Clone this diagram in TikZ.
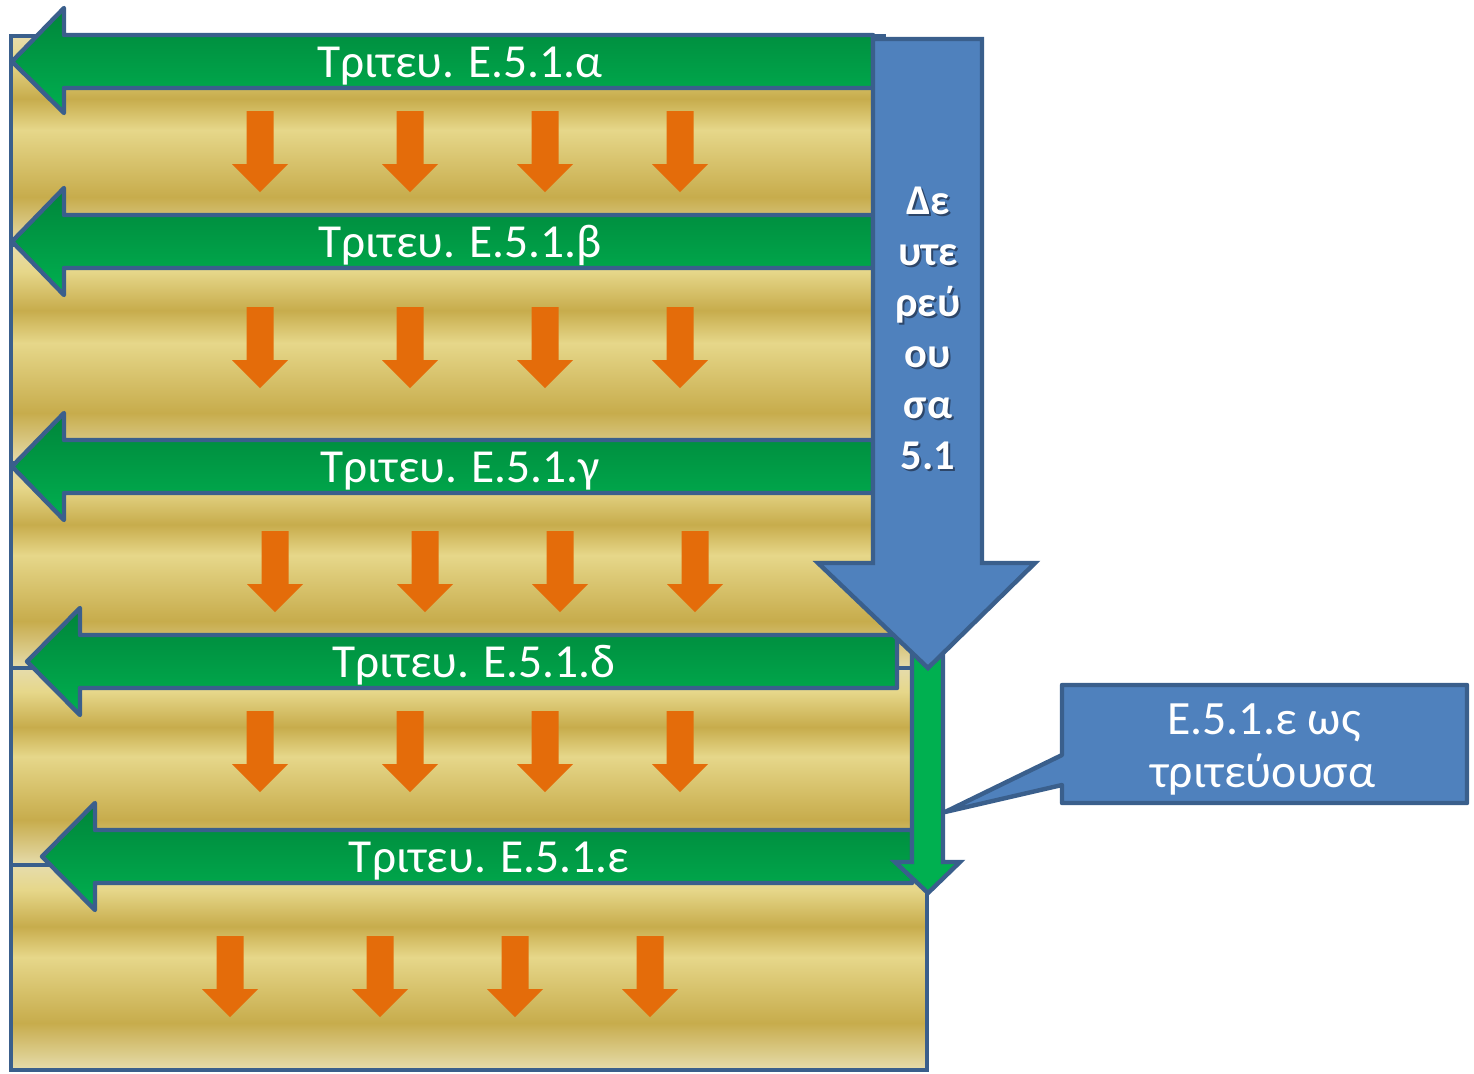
\documentclass[tikz,border=0pt]{standalone}
\usepackage{fontspec}
\setmainfont{Carlito}
\definecolor{edge}{RGB}{58,95,140}
\definecolor{bfill}{RGB}{79,129,189}
\definecolor{orng}{RGB}{228,108,10}
\definecolor{gD}{RGB}{0,133,58}
\definecolor{gL}{RGB}{0,176,80}
\definecolor{au0}{RGB}{230,220,172}
\definecolor{au1}{RGB}{230,215,138}
\definecolor{au2}{RGB}{199,172,76}
\definecolor{shadowc}{RGB}{45,70,105}
\pgfdeclareverticalshading{goldsh}{100bp}{color(0bp)=(au0); color(25bp)=(au0); color(36.5bp)=(au2); color(52.5bp)=(au1); color(60bp)=(au2); color(69bp)=(au1); color(75bp)=(au0); color(100bp)=(au0)}
\tikzset{
  band/.style={shading=goldsh, draw=edge, line width=2.2pt},
  garrow/.style={top color=gD, bottom color=gL, draw=edge, line width=2.2pt, line join=round},
  varrow/.style={fill=gL, draw=edge, line width=2.2pt, line join=miter},
  barrow/.style={fill=bfill, draw=edge, line width=2.2pt, line join=miter},
  oarr/.style={fill=orng},
  lbl/.style={text=white, font=\fontsize{23.7}{28}\selectfont, inner sep=0pt, anchor=base},
  dlbl/.style={text=white, font=\fontsize{21.2}{24}\selectfont\bfseries, inner sep=0pt, anchor=base},
  clbl/.style={text=white, font=\fontsize{23.9}{28}\selectfont, inner sep=0pt, anchor=base},
}
\newcommand\leftarr[7]{\draw[garrow] (#7,#1) -- (#6,#1) -- (#6,#3) -- (#5,{(#1+#2)/2}) -- (#6,#4) -- (#6,#2) -- (#7,#2) -- cycle;}
\newcommand\downarr[2]{\fill[oarr] ({#1-13.5},#2) -- ({#1+13.5},#2) -- ({#1+13.5},{#2+53}) -- ({#1+28},{#2+53}) -- (#1,{#2+81}) -- ({#1-28},{#2+53}) -- ({#1-13.5},{#2+53}) -- cycle;}
\newcommand\shd[1]{\rlap{\kern1pt\raisebox{-1pt}{\textcolor{shadowc}{#1}}}#1}
\begin{document}
\begin{tikzpicture}[x=0.5pt,y=-0.5pt]
\useasboundingbox (0,0) rectangle (1474,1073);
% gold bands
\draw[band] (11,36) rectangle (884,245);
\draw[band] (11,245) rectangle (884,463);
\draw[band] (11,463) rectangle (912,668);
\draw[band] (11,668) rectangle (912,865);
\draw[band] (11,865) rectangle (927,1070);
% orange arrows
\foreach \x in {260,410,545,680} {\downarr{\x}{111}}
\foreach \x in {260,410,545,680} {\downarr{\x}{307}}
\foreach \x in {275,425,560,695} {\downarr{\x}{531}}
\foreach \x in {260,410,545,680} {\downarr{\x}{711}}
\foreach \x in {230,380,515,650} {\downarr{\x}{936}}
% green left arrows
\leftarr{35}{88}{8}{113}{12}{64}{873}
\leftarr{215}{268}{188}{295}{12}{64}{873}
\leftarr{440}{493}{413}{520}{12}{64}{873}
\leftarr{635}{688}{608}{715}{27}{80}{897}
\leftarr{830}{883}{803}{910}{42}{95}{912}
% green vertical arrow
\draw[varrow] (912,650) -- (943,650) -- (943,862) -- (960,862) -- (928,893) -- (895,862) -- (912,862) -- cycle;
% blue big arrow
\draw[barrow] (873,39) -- (982,39) -- (982,563) -- (1035,563) -- (928,668) -- (818,563) -- (873,563) -- cycle;
% callout
\draw[barrow, line join=round] (1062,685) -- (1467,685) -- (1467,803) -- (1062,803) -- (1062,785) -- (945,812) -- (1062,755) -- cycle;
% labels
\node[lbl] (ta) at (460,77) {Τριτευ. Ε.5.1.α};
\node[lbl] (tb) at (460,257) {Τριτευ. Ε.5.1.β};
\node[lbl] (tc) at (460,482) {Τριτευ. Ε.5.1.γ};
\node[lbl] (td) at (474,677) {Τριτευ. Ε.5.1.δ};
\node[lbl] (te) at (489,872) {Τριτευ. Ε.5.1.ε};
\node[dlbl] (d1) at (928,214) {\shd{Δε}};
\node[dlbl] (d2) at (928,265) {\shd{υτε}};
\node[dlbl] (d3) at (928,316) {\shd{ρεύ}};
\node[dlbl] (d4) at (928,367) {\shd{ου}};
\node[dlbl] (d5) at (928,418) {\shd{σα}};
\node[dlbl] (d6) at (928,469) {\shd{5.1}};
\node[clbl] (c1) at (1264,734) {Ε.5.1.ε ως};
\node[clbl] (c2) at (1263,787) {τριτεύουσα};
\end{tikzpicture}
\end{document}
